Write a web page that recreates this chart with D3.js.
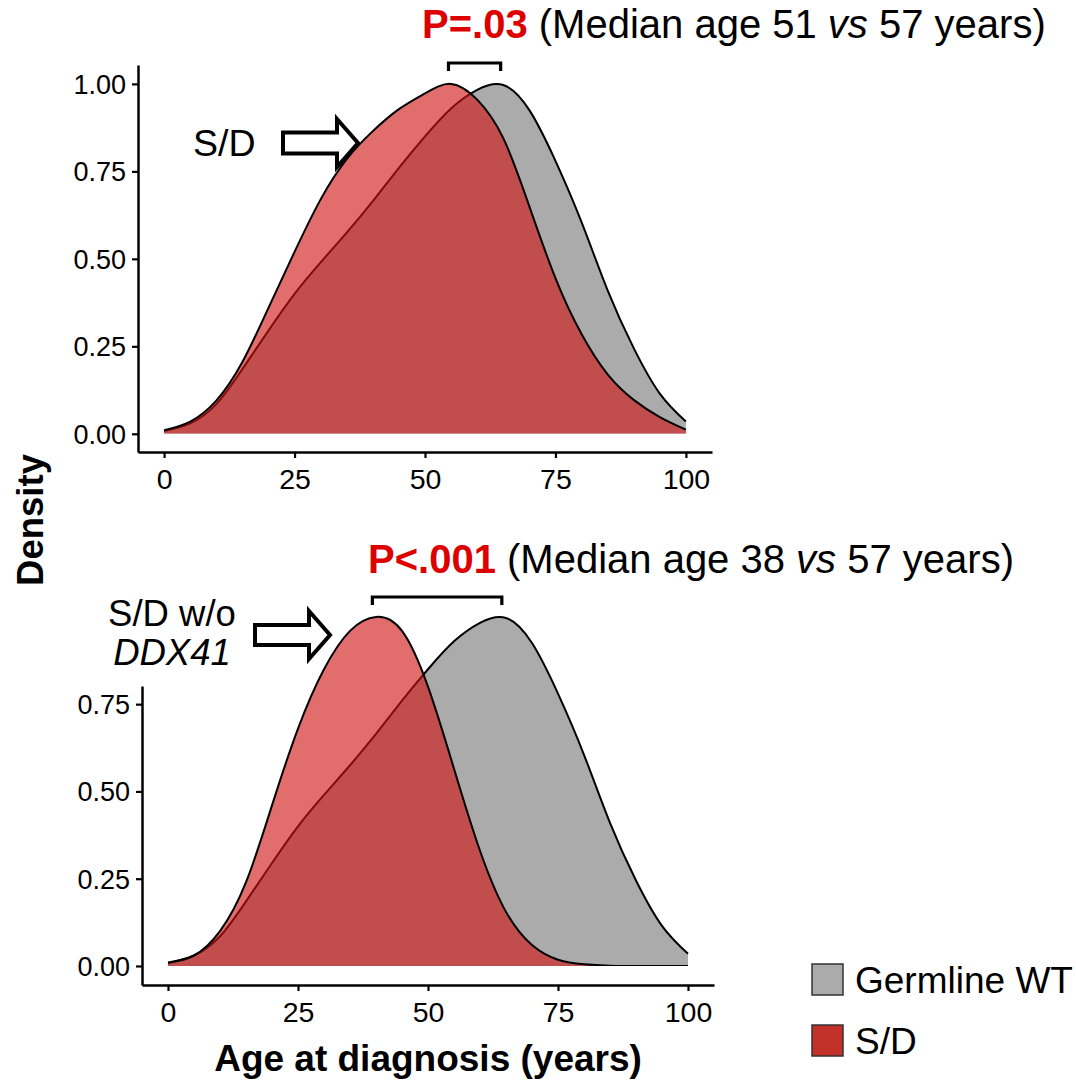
<!DOCTYPE html>
<html>
<head>
<meta charset="utf-8">
<script src="https://cdn.jsdelivr.net/npm/d3@7"></script>
<style>
  html, body { margin: 0; padding: 0; background: #fff; }
  svg { display: block; font-family: "Liberation Sans", Arial, sans-serif; }
</style>
</head>
<body>
<svg id="chart" width="1076" height="1082"></svg>
<script>
// ---------------- data ----------------
const xTicks = [0, 25, 50, 75, 100];
const yTicksTop = [0, 0.25, 0.5, 0.75, 1.0];
const yTicksBottom = [0, 0.25, 0.5, 0.75];

// Germline WT (scaled density) – same in both panels
const gwtAge     = [0, 5, 10, 15, 20, 25, 30, 35, 40, 45, 50, 55, 60, 65, 70, 75, 80, 85, 90, 95, 100];
const gwtDensity = [0.008, 0.03, 0.085, 0.185, 0.295, 0.40, 0.49, 0.575, 0.665, 0.76, 0.85, 0.93, 0.983, 0.997, 0.925, 0.78, 0.605, 0.41, 0.245, 0.115, 0.035];

// S/D (top panel)
const sdAge     = [0, 5, 10, 15, 20, 25, 30, 35, 40, 45, 50, 55, 60, 65, 70, 75, 80, 85, 90, 95, 100];
const sdDensity = [0.01, 0.035, 0.095, 0.205, 0.36, 0.52, 0.67, 0.785, 0.865, 0.928, 0.973, 1.0, 0.955, 0.845, 0.65, 0.445, 0.285, 0.17, 0.097, 0.048, 0.012];

// S/D without DDX41 (bottom panel)
const sdNoDdxAge     = [0, 5, 10, 15, 20, 25, 30, 35, 40, 45, 50, 55, 60, 65, 70, 75, 80, 85, 90, 95, 100];
const sdNoDdxDensity = [0.01, 0.03, 0.10, 0.24, 0.46, 0.68, 0.85, 0.96, 1.0, 0.96, 0.80, 0.565, 0.33, 0.155, 0.06, 0.018, 0.005, 0.001, 0, 0, 0];

const legendLabels = ["Germline WT", "S/D"];
const titles = [
  { p: "P=.03",  pre: " (Median age 51 ", vs: "vs", post: " 57 years)" },
  { p: "P<.001", pre: " (Median age 38 ", vs: "vs", post: " 57 years)" }
];
// median-peak brackets (age values)
const bracketTop = [54.5, 64.5];
const bracketBottom = [39.3, 64.2];

// ---------------- drawing ----------------
const svg = d3.select("#chart");
const zip = (a, b) => a.map((v, i) => [v, b[i]]);

const colGray = "#ababab";
const colRed = "#d01414";
const redOpacity = 0.62;
const curve = d3.curveNatural;

function drawPanel(cfg) {
  const x = d3.scaleLinear().domain([-5, 105]).range([cfg.left, cfg.right]);
  const y = d3.scaleLinear().domain(cfg.yDomain).range([cfg.bottom, cfg.top]);
  const g = svg.append("g");

  const area = d3.area().curve(curve)
    .x(d => x(d[0])).y0(y(0)).y1(d => y(d[1]));
  const line = d3.line().curve(curve)
    .x(d => x(d[0])).y(d => y(d[1]));

  const gray = zip(gwtAge, gwtDensity);
  const red = zip(cfg.redAge, cfg.redDensity);

  const clipId = "clip" + cfg.bottom;
  svg.append("clipPath").attr("id", clipId).append("rect")
    .attr("x", 0).attr("y", 0).attr("width", 1076).attr("height", y(0));
  const marks = g.append("g").attr("clip-path", `url(#${clipId})`);

  marks.append("path").datum(gray).attr("d", area).attr("fill", colGray);
  marks.append("path").datum(gray).attr("d", line).attr("fill", "none").attr("stroke", "#000").attr("stroke-width", 2);
  marks.append("path").datum(red).attr("d", area).attr("fill", colRed).attr("fill-opacity", redOpacity);
  marks.append("path").datum(red).attr("d", line).attr("fill", "none").attr("stroke", "#000").attr("stroke-width", 2);

  // axes
  const xAxis = d3.axisBottom(x).tickValues(xTicks).tickSize(6).tickPadding(5).tickSizeOuter(0);
  const yAxis = d3.axisLeft(y).tickValues(cfg.yTicks).tickFormat(d3.format(".2f")).tickSize(6).tickPadding(6).tickSizeOuter(0);

  const gx = g.append("g").attr("transform", `translate(0,${cfg.bottom})`).call(xAxis);
  const gy = g.append("g").attr("transform", `translate(${cfg.left},0)`).call(yAxis);
  [gx, gy].forEach(a => {
    a.select(".domain").attr("stroke", "#000").attr("stroke-width", 2.5);
    a.selectAll(".tick line").attr("stroke", "#000").attr("stroke-width", 2.2);
    a.selectAll(".tick text").attr("fill", "#000")
      .attr("font-family", "'Liberation Sans', Arial, sans-serif");
  });
  gx.selectAll(".tick text").attr("font-size", 28.5).attr("dy", "0.9em");
  gy.selectAll(".tick text").attr("font-size", 27).attr("dy", "0.35em");

  // bracket
  const bx0 = x(cfg.bracket[0]), bx1 = x(cfg.bracket[1]);
  g.append("path")
    .attr("d", `M${bx0},${cfg.bracketY + 8}V${cfg.bracketY}H${bx1}V${cfg.bracketY + 8}`)
    .attr("fill", "none").attr("stroke", "#000").attr("stroke-width", 3.2);

  // title
  const t = g.append("text").attr("x", cfg.titleX).attr("y", cfg.titleY)
    .attr("font-size", 40).attr("fill", "#000");
  t.append("tspan").text(cfg.title.p).attr("font-weight", "bold").attr("fill", "#dd0000");
  t.append("tspan").text(cfg.title.pre);
  t.append("tspan").text(cfg.title.vs).attr("font-style", "italic");
  t.append("tspan").text(cfg.title.post);
  return { x, y, g };
}

const topPanel = drawPanel({
  left: 138, right: 712, top: 65, bottom: 452,
  yDomain: [-0.052, 1.054], yTicks: yTicksTop,
  redAge: sdAge, redDensity: sdDensity,
  bracket: bracketTop, bracketY: 63,
  title: titles[0], titleX: 422, titleY: 38
});

const bottomPanel = drawPanel({
  left: 142, right: 714, top: 686, bottom: 985,
  yDomain: [-0.0545, 0.802], yTicks: yTicksBottom,
  redAge: sdNoDdxAge, redDensity: sdNoDdxDensity,
  bracket: bracketBottom, bracketY: 597,
  title: titles[1], titleX: 368, titleY: 573
});

// block arrows
function blockArrow(x0, yc, shaftEnd, tipX, halfShaft, halfHead) {
  const p = `M${x0},${yc - halfShaft}H${shaftEnd}V${yc - halfHead}L${tipX},${yc}L${shaftEnd},${yc + halfHead}V${yc + halfShaft}H${x0}Z`;
  svg.append("path").attr("d", p).attr("fill", "#fff").attr("stroke", "#000")
    .attr("stroke-width", 4).attr("stroke-linejoin", "miter");
}
blockArrow(283, 143, 337, 358, 10.5, 24);
blockArrow(255, 635, 309, 330, 10, 24);

// annotations
svg.append("text").attr("x", 193).attr("y", 156).attr("font-size", 37.5).text("S/D");
svg.append("text").attr("x", 172).attr("y", 626).attr("text-anchor", "middle")
  .attr("font-size", 36.5).text("S/D w/o");
svg.append("text").attr("x", 172).attr("y", 665).attr("text-anchor", "middle")
  .attr("font-size", 36.5).attr("font-style", "italic").text("DDX41");

// axis titles
svg.append("text").attr("transform", "translate(43,520) rotate(-90)")
  .attr("text-anchor", "middle").attr("font-size", 36.5).attr("font-weight", "bold").text("Density");
svg.append("text").attr("x", 428).attr("y", 1071).attr("text-anchor", "middle")
  .attr("font-size", 37).attr("font-weight", "bold").text("Age at diagnosis (years)");

// legend
const legendFills = [colGray, "#c3312b"];
const lg = svg.append("g");
legendLabels.forEach((lab, i) => {
  const yy = 964 + i * 61;
  lg.append("rect").attr("x", 812).attr("y", yy).attr("width", 31).attr("height", 31)
    .attr("fill", legendFills[i]).attr("stroke", "#333").attr("stroke-width", 1.5);
  lg.append("text").attr("x", 855).attr("y", yy + 29).attr("font-size", 37).text(lab);
});
</script>
</body>
</html>
